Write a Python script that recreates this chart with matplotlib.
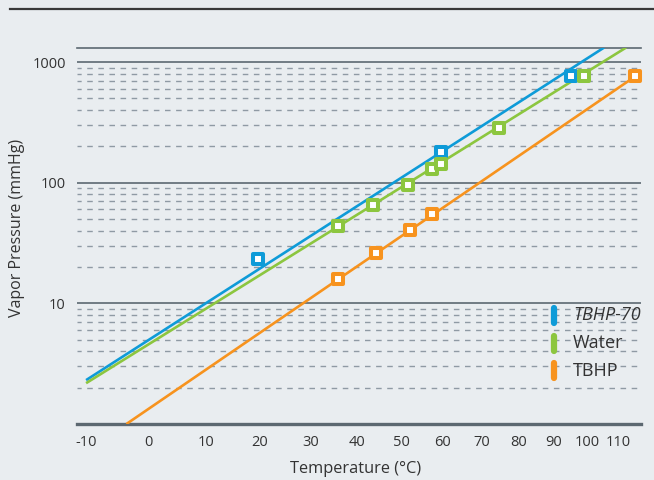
import numpy as np
import matplotlib
matplotlib.use("Agg")
import matplotlib.pyplot as plt
from matplotlib.markers import MarkerStyle
from matplotlib.ticker import NullFormatter, FixedLocator

plt.rcParams['font.family'] = ['Open Sans', 'DejaVu Sans']

# measured points (temperature in degC, vapor pressure in mmHg)
tbhp70_t = [19.7, 59.5, 95.1]
tbhp70_p = [23.1, 178, 760]
water_t = [35.9, 43.6, 51.6, 57.2, 59.5, 74.5, 99.2]
water_p = [43.5, 65.8, 96.3, 130.6, 143.6, 283, 760]
tbhp_t = [35.9, 44.1, 52.0, 57.2, 115.7]
tbhp_p = [16.0, 25.9, 40.9, 55.1, 760]

# fitted lines (two end points each)
tbhp70_fit_t = [-10, 105.5]
tbhp70_fit_p = [2.31, 1320]
water_fit_t = [-10, 112.7]
water_fit_p = [2.18, 1320]
tbhp_fit_t = [-3.6, 115.7]
tbhp_fit_p = [1.0, 760]

x_ticks = [-10, 0, 10, 20, 30, 40, 50, 60, 70, 80, 90, 100, 110]
y_ticks = [10, 100, 1000]

blue = '#0e9bd8'
green = '#8cc63f'
orange = '#f7931e'
bg = '#e9edf0'
dark = '#5c6871'
txt = '#333333'


# Clausius-Clapeyron axis: linear in 1/T
def fwd(t):
    t = np.asarray(t, dtype=float)
    return -1.0 / (t + 273.15)


def inv(x):
    x = np.asarray(x, dtype=float)
    return -1.0 / x - 273.15


fig = plt.figure(figsize=(6.54, 4.80), dpi=100, facecolor=bg)
ax = fig.add_axes([77 / 654, 1 - 424 / 480, (641 - 77) / 654, (424 - 47.7) / 480])
ax.set_facecolor(bg)
ax.set_xscale('function', functions=(fwd, inv))
ax.set_yscale('log')
ax.set_xlim(-11.4, 117.7)
ax.set_ylim(1.0, 1315)

ax.xaxis.set_major_locator(FixedLocator(x_ticks))
ax.xaxis.set_minor_locator(FixedLocator([]))
ax.set_xticklabels([str(v) for v in x_ticks])
ax.set_yticks(y_ticks)
ax.set_yticklabels([str(v) for v in y_ticks])
ax.yaxis.set_minor_formatter(NullFormatter())
ax.tick_params(axis='both', which='both', length=0, labelsize=10.5, colors=txt)
ax.tick_params(axis='x', pad=8)
ax.tick_params(axis='y', pad=8)

ax.grid(False)
ax.grid(True, which='major', axis='y', color=dark, linewidth=1.2)
ax.grid(True, which='minor', axis='y', color='#8f9aa4', linewidth=1.0,
        linestyle=(1, (4.0, 4.0)))
ax.set_axisbelow(True)

for s in ['left', 'right']:
    ax.spines[s].set_visible(False)
ax.spines['top'].set_color(dark)
ax.spines['top'].set_linewidth(1.2)
ax.spines['bottom'].set_color(dark)
ax.spines['bottom'].set_linewidth(2.4)

sq = MarkerStyle('s', joinstyle='round')
series = [
    (tbhp70_fit_t, tbhp70_fit_p, tbhp70_t, tbhp70_p, blue),
    (water_fit_t, water_fit_p, water_t, water_p, green),
    (tbhp_fit_t, tbhp_fit_p, tbhp_t, tbhp_p, orange),
]
for ft, fp, t, p, c in series:
    ax.plot(ft, fp, color=c, linewidth=1.9, solid_capstyle='butt', zorder=3)
for ft, fp, t, p, c in series:
    ax.plot(t, p, linestyle='none', marker=sq, markersize=6.5,
            markerfacecolor='white', markeredgecolor=c, markeredgewidth=2.9,
            zorder=4, clip_on=False)

# legend
labels = ['TBHP-70', 'Water', 'TBHP']
colors = [blue, green, orange]
styles = ['italic', 'normal', 'normal']
for i, (lab, c, st) in enumerate(zip(labels, colors, styles)):
    yc = 1 - (315.5 + 27.5 * i) / 480
    fig.add_artist(plt.Line2D([554 / 654, 554 / 654], [yc - 7.5 / 480, yc + 7.5 / 480],
                              color=c, linewidth=4.5, solid_capstyle='round'))
    fig.text(573 / 654, yc, lab, fontsize=13, color=txt, style=st,
             ha='left', va='center')

fig.text(17 / 654, 1 - 228 / 480, 'Vapor Pressure (mmHg)', rotation=90,
         fontsize=11.5, color=txt, ha='center', va='center')
fig.text(356 / 654, 1 - 469 / 480, 'Temperature (\u00b0C)', fontsize=11.8,
         color=txt, ha='center', va='center')

# rule across the top of the figure
fig.add_artist(plt.Line2D([10 / 654, 1.0], [1 - 9 / 480, 1 - 9 / 480],
                          color='#3a3a3a', linewidth=1.6))

plt.savefig('out.png', dpi=100, facecolor=bg)
